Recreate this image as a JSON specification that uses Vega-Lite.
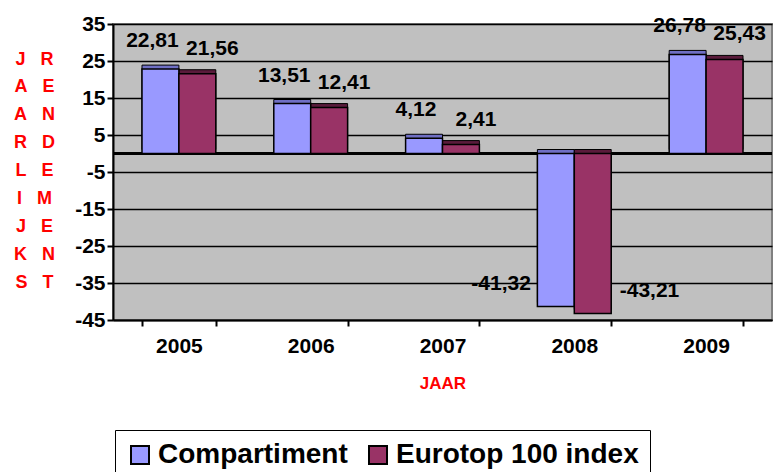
{
  "$schema": "https://vega.github.io/schema/vega-lite/v6.json",
  "width": 659,
  "height": 296,
  "autosize": {"type": "none"},
  "padding": {"left": 113, "top": 24, "right": 7, "bottom": 152},
  "background": "white",
  "config": {
    "locale": {"number": {"decimal": ",", "thousands": ".", "grouping": [3], "currency": ["", ""], "minus": "-"}},
    "font": "Liberation Sans",
    "view": {"fill": "#c0c0c0", "stroke": "#808080", "strokeWidth": 2}
  },
  "data": {
    "values": [
      {"year": "2005", "series": "Compartiment", "value": 22.81},
      {"year": "2005", "series": "Eurotop 100 index", "value": 21.56},
      {"year": "2006", "series": "Compartiment", "value": 13.51},
      {"year": "2006", "series": "Eurotop 100 index", "value": 12.41},
      {"year": "2007", "series": "Compartiment", "value": 4.12},
      {"year": "2007", "series": "Eurotop 100 index", "value": 2.41},
      {"year": "2008", "series": "Compartiment", "value": -41.32},
      {"year": "2008", "series": "Eurotop 100 index", "value": -43.21},
      {"year": "2009", "series": "Compartiment", "value": 26.78},
      {"year": "2009", "series": "Eurotop 100 index", "value": 25.43}
    ]
  },
  "encoding": {
    "x": {
      "field": "year", "type": "nominal",
      "scale": {"paddingInner": 0.44, "paddingOuter": 0.22},
      "axis": {
        "title": "JAAR", "titleColor": "#ff0000", "titleFontSize": 17, "titleFontWeight": "bold", "titlePadding": 19,
        "labelAngle": 0, "labelFontSize": 21, "labelFontWeight": "bold", "labelColor": "black", "labelPadding": 9,
        "domainColor": "black", "domainWidth": 2, "tickColor": "black", "tickWidth": 2, "tickSize": 6, "tickBand": "extent"
      }
    },
    "xOffset": {"field": "series", "type": "nominal", "sort": ["Compartiment", "Eurotop 100 index"], "scale": {"paddingInner": 0, "paddingOuter": 0}},
    "y": {
      "field": "value", "type": "quantitative",
      "scale": {"domain": [-45, 35], "nice": false, "zero": false},
      "axis": {
        "values": [-45, -35, -25, -15, -5, 5, 15, 25, 35],
        "labelOverlap": false,
        "title": ["J\u00a0\u00a0\u00a0R", "A\u00a0\u00a0\u00a0E", "A\u00a0\u00a0\u00a0N", "R\u00a0\u00a0\u00a0D", "L\u00a0\u00a0\u00a0E", "I\u00a0\u00a0\u00a0M", "J\u00a0\u00a0\u00a0E", "K\u00a0\u00a0\u00a0N", "S\u00a0\u00a0\u00a0T"],
        "titleAngle": 0, "titleAlign": "center", "titleBaseline": "top", "titleX": -79, "titleY": 26,
        "titleLineHeight": 27.9, "titleFontSize": 18, "titleFontWeight": "bold", "titleColor": "#ff0000",
        "labelFontSize": 21, "labelFontWeight": "bold", "labelColor": "black", "labelPadding": 2,
        "domainColor": "black", "domainWidth": 2, "tickColor": "black", "tickWidth": 2, "tickSize": 6,
        "grid": true, "gridColor": "black", "gridWidth": 1.5
      }
    }
  },
  "layer": [
    {
      "mark": {"type": "rule", "color": "black", "strokeWidth": 2},
      "encoding": {"y": {"datum": 0, "type": "quantitative"}, "x": null, "xOffset": null}
    },
    {
      "mark": {"type": "bar", "stroke": "black", "strokeWidth": 1, "xOffset": 4, "x2Offset": 4, "yOffset": -4, "y2Offset": -4},
      "encoding": {
        "fill": {"condition": {"test": "datum.series === 'Compartiment'", "value": "#6f6fc4"}, "value": "#5a1b3b"}
      }
    },
    {
      "mark": {"type": "bar", "stroke": "black", "strokeWidth": 1.5},
      "encoding": {
        "color": {
          "field": "series", "type": "nominal",
          "scale": {"domain": ["Compartiment", "Eurotop 100 index"], "range": ["#9999ff", "#993366"]},
          "legend": {
            "title": null, "orient": "none", "legendX": 2, "legendY": 406, "direction": "horizontal",
            "symbolType": "square", "symbolSize": 324, "symbolStrokeColor": "black", "symbolStrokeWidth": 2,
            "labelFontSize": 28, "labelFontWeight": "bold", "labelColor": "black", "labelOffset": 4, "labelLimit": 0,
            "columnPadding": 16, "strokeColor": "black", "padding": 11, "fillColor": "white"
          }
        }
      }
    },
    {
      "transform": [{"filter": "datum.value > 0 && datum.series === 'Compartiment'"}],
      "mark": {"type": "text", "fontSize": 21, "fontWeight": "bold", "color": "black", "baseline": "middle", "dx": -8, "dy": -28},
      "encoding": {
        "text": {"field": "value", "type": "quantitative", "format": ".2f"}
      }
    },
    {
      "transform": [{"filter": "datum.value > 0 && datum.series !== 'Compartiment'"}],
      "mark": {"type": "text", "fontSize": 21, "fontWeight": "bold", "color": "black", "baseline": "middle", "dx": 15, "dy": -25},
      "encoding": {
        "text": {"field": "value", "type": "quantitative", "format": ".2f"}
      }
    },
    {
      "transform": [{"filter": "datum.value < 0 && datum.series === 'Compartiment'"}],
      "mark": {"type": "text", "fontSize": 21, "fontWeight": "bold", "color": "black", "align": "right", "baseline": "middle", "dx": -25, "dy": -22},
      "encoding": {
        "text": {"field": "value", "type": "quantitative", "format": ".2f"}
      }
    },
    {
      "transform": [{"filter": "datum.value < 0 && datum.series !== 'Compartiment'"}],
      "mark": {"type": "text", "fontSize": 21, "fontWeight": "bold", "color": "black", "align": "left", "baseline": "middle", "dx": 27, "dy": -22},
      "encoding": {
        "text": {"field": "value", "type": "quantitative", "format": ".2f"}
      }
    }
  ]
}
